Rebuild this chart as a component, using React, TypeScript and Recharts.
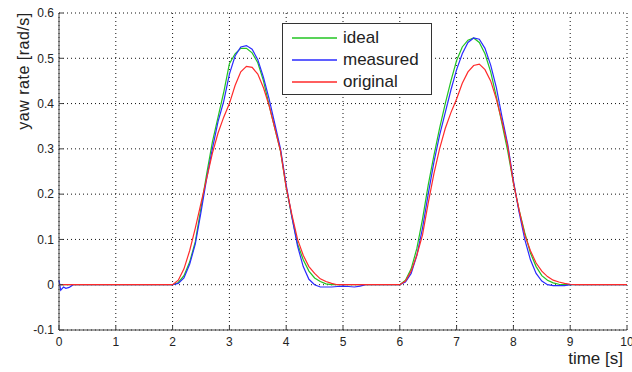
import React from 'react';
import { LineChart, Line, XAxis, YAxis, CartesianGrid, Legend, Label } from 'recharts';

const times = [
  0, 0.03, 0.08, 0.12, 0.18, 0.25, 1,
  2.0, 2.1, 2.2, 2.3, 2.4, 2.5, 2.6, 2.7, 2.8, 2.9,
  3.0, 3.1, 3.2, 3.3, 3.4, 3.5, 3.6, 3.7, 3.8, 3.9,
  4.0, 4.1, 4.2, 4.3, 4.4, 4.5, 4.6, 4.7, 4.8, 4.9,
  5.0, 5.1, 5.2, 5.3, 5.4,
  6.0, 6.1, 6.2, 6.3, 6.4, 6.5, 6.6, 6.7, 6.8, 6.9,
  7.0, 7.1, 7.2, 7.3, 7.4, 7.5, 7.6, 7.7, 7.8, 7.9,
  8.0, 8.1, 8.2, 8.3, 8.4, 8.5, 8.6, 8.7, 8.8, 8.9,
  9.0, 9.1, 10,
];

const ideal = [
  0, 0, 0, 0, 0, 0, 0,
  0, 0.005, 0.02, 0.05, 0.095, 0.17, 0.245, 0.315, 0.37, 0.425,
  0.488, 0.51, 0.522, 0.522, 0.512, 0.49, 0.45, 0.396, 0.345, 0.295,
  0.215, 0.15, 0.09, 0.055, 0.03, 0.015, 0.007, 0.002, 0, 0,
  0, 0, 0, 0, 0,
  0, 0.01, 0.035, 0.08, 0.145, 0.22, 0.285, 0.345, 0.4, 0.45,
  0.495, 0.525, 0.54, 0.545, 0.535, 0.51, 0.47, 0.415, 0.355, 0.295,
  0.225, 0.165, 0.115, 0.07, 0.04, 0.02, 0.01, 0.004, 0.001, 0,
  0, 0, 0,
];

const measured = [
  0.01, -0.012, -0.005, -0.008, -0.006, 0, 0,
  0, 0.003, 0.015, 0.045, 0.09, 0.16, 0.235, 0.3, 0.36, 0.405,
  0.465, 0.505, 0.525, 0.528, 0.52, 0.497, 0.458, 0.41, 0.355, 0.3,
  0.22, 0.15, 0.085, 0.04, 0.012, 0, -0.005, -0.005, -0.005, -0.004,
  -0.003, -0.004, -0.005, -0.003, 0,
  0, 0.006, 0.025, 0.065, 0.125, 0.2, 0.27, 0.33, 0.38, 0.43,
  0.475, 0.51, 0.535, 0.545, 0.542, 0.522, 0.485, 0.435, 0.37, 0.31,
  0.23, 0.16, 0.1, 0.055, 0.025, 0.008, 0, -0.002, -0.002, -0.002,
  0, 0, 0,
];

const original = [
  0, 0, 0, 0, 0, 0, 0,
  0, 0.01, 0.035, 0.075, 0.125, 0.18, 0.235, 0.29, 0.335, 0.37,
  0.4, 0.44, 0.47, 0.482, 0.48, 0.465, 0.435, 0.395, 0.345, 0.295,
  0.215, 0.155, 0.1, 0.065, 0.04, 0.025, 0.013, 0.007, 0.003, 0,
  0, 0, 0, 0, 0,
  0, 0.008, 0.03, 0.065, 0.11, 0.18, 0.245, 0.3, 0.345, 0.38,
  0.41, 0.445, 0.47, 0.484, 0.487, 0.475, 0.45, 0.41, 0.36, 0.305,
  0.225, 0.165, 0.11, 0.075, 0.048, 0.03, 0.018, 0.01, 0.006, 0.003,
  0.001, 0, 0,
];

const xTicks = [0, 1, 2, 3, 4, 5, 6, 7, 8, 9, 10];
const yTicks = [-0.1, 0, 0.1, 0.2, 0.3, 0.4, 0.5, 0.6];

const seriesNames = ['ideal', 'measured', 'original'];
const seriesColors = ['#22c422', '#2a2aff', '#ff2a2a'];

const data = times.map((t, i) => ({
  t,
  ideal: ideal[i],
  measured: measured[i],
  original: original[i],
}));

const fmtY = (v: number) => String(Math.round(v * 10) / 10);
const blank = () => '';

const FONT = '"Liberation Sans", Arial, Helvetica, sans-serif';
const AXIS = '#404040';

const renderLegend = (props: any) => {
  const payload = props.payload || [];
  return (
    <div
      style={{
        border: '1px solid #333',
        background: '#fff',
        width: 150,
        height: 72,
        boxSizing: 'border-box',
        paddingTop: 3,
        fontFamily: FONT,
        fontSize: 17,
        color: '#222',
      }}
    >
      {payload.map((entry: any) => (
        <div key={entry.value} style={{ display: 'flex', alignItems: 'center', height: 22 }}>
          <svg width={54} height={4} style={{ display: 'block', flex: 'none' }}>
            <line x1={9} x2={54} y1={2} y2={2} stroke={entry.color} strokeWidth={1.3} />
          </svg>
          <span style={{ marginLeft: 6, lineHeight: '22px' }}>{entry.value}</span>
        </div>
      ))}
    </div>
  );
};

export default function App() {
  return (
    <div style={{ position: 'absolute', left: 0, top: 0, width: 632, height: 372, background: '#fff' }}>
      <LineChart
        width={632}
        height={372}
        data={data}
        margin={{ top: 13, right: 5, bottom: 0, left: 0 }}
      >
        <CartesianGrid stroke="#111" strokeDasharray="1 3" />
        <XAxis
          dataKey="t"
          type="number"
          domain={[0, 10]}
          ticks={xTicks}
          height={42}
          stroke={AXIS}
          tickSize={-4}
          tickMargin={11}
          tick={{ fill: '#222', fontSize: 12, fontFamily: FONT }}
          interval={0}
        >
          <Label
            content={() => (
              <text x={623} y={364} textAnchor="end" fill="#222" fontSize={17} fontFamily={FONT}>
                time [s]
              </text>
            )}
          />
        </XAxis>
        <XAxis
          xAxisId="top"
          orientation="top"
          dataKey="t"
          type="number"
          domain={[0, 10]}
          ticks={xTicks}
          height={0}
          stroke={AXIS}
          tickSize={-4}
          tickFormatter={blank}
          interval={0}
        />
        <YAxis
          type="number"
          domain={[-0.1, 0.6]}
          ticks={yTicks}
          width={59}
          stroke={AXIS}
          tickSize={-4}
          tickMargin={9}
          tickFormatter={fmtY}
          tick={{ fill: '#222', fontSize: 12, fontFamily: FONT }}
          interval={0}
        >
          <Label
            content={() => (
              <text
                x={29}
                y={71}
                transform="rotate(-90 29 71)"
                textAnchor="middle"
                fill="#222"
                fontSize={16}
                letterSpacing={0.5}
                fontFamily={FONT}
              >
                yaw rate [rad/s]
              </text>
            )}
          />
        </YAxis>
        <YAxis
          yAxisId="right"
          orientation="right"
          type="number"
          domain={[-0.1, 0.6]}
          ticks={yTicks}
          width={0}
          stroke={AXIS}
          tickSize={-4}
          tickFormatter={blank}
          interval={0}
        />
        <Legend
          layout="vertical"
          align="center"
          verticalAlign="middle"
          content={renderLegend}
          wrapperStyle={{ position: 'absolute', left: 282, top: 23, width: 150, height: 72 }}
        />
        {seriesNames.map((name, i) => (
          <Line
            key={name}
            dataKey={name}
            name={name}
            type="linear"
            stroke={seriesColors[i]}
            strokeWidth={1.2}
            dot={false}
            activeDot={false}
            isAnimationActive={false}
          />
        ))}
      </LineChart>
    </div>
  );
}
